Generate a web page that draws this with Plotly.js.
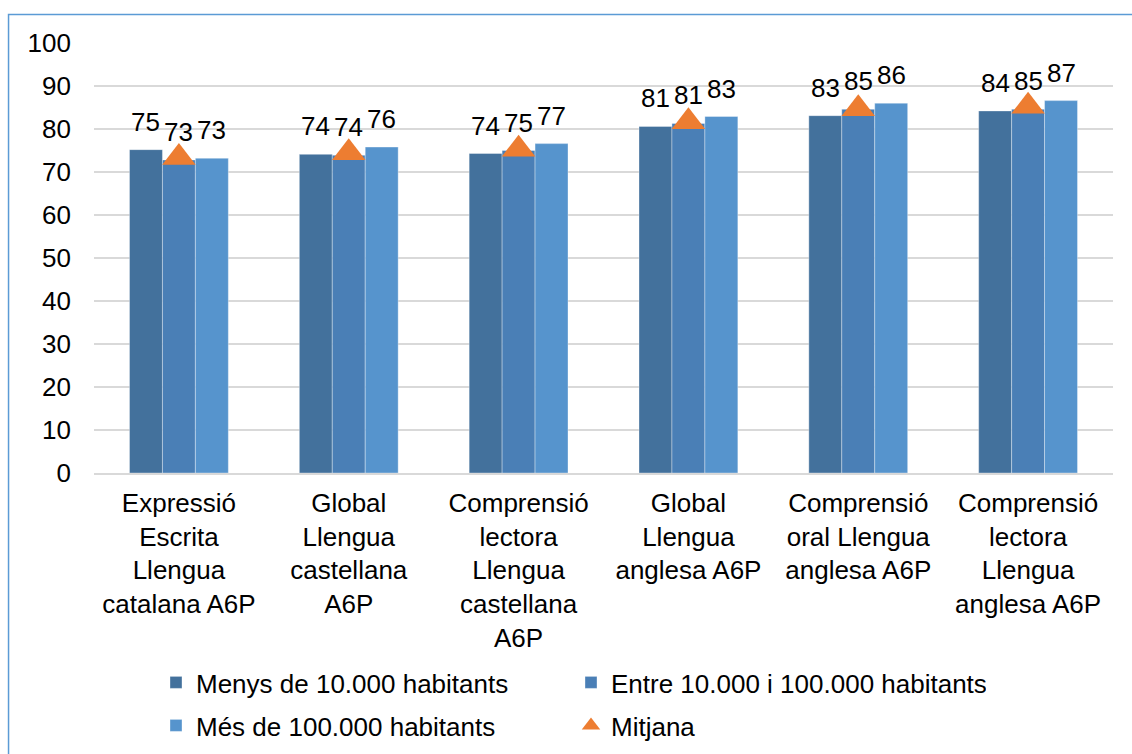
<!DOCTYPE html>
<html><head><meta charset="utf-8">
<script src="https://cdn.plot.ly/plotly-3.0.1.min.js"></script>
<style>html,body{margin:0;padding:0;background:#fff}#chart{width:1132px;height:754px}</style>
</head><body><div id="chart"></div>
<script>
const categories = [
  "Expressió<br>Escrita<br>Llengua<br>catalana A6P",
  "Global<br>Llengua<br>castellana<br>A6P",
  "Comprensió<br>lectora<br>Llengua<br>castellana<br>A6P",
  "Global<br>Llengua<br>anglesa A6P",
  "Comprensió<br>oral Llengua<br>anglesa A6P",
  "Comprensió<br>lectora<br>Llengua<br>anglesa A6P"
];
const seriesNames = ["Menys de 10.000 habitants", "Entre 10.000 i 100.000 habitants", "Més de 100.000 habitants", "Mitjana"];
const menys = [75.2, 74.1, 74.3, 80.6, 83.1, 84.2];
const entre = [72.8, 73.9, 75.0, 81.3, 84.6, 84.6];
const mes = [73.2, 75.8, 76.6, 82.9, 86.0, 86.6];
const mitjana = [73.4, 74.5, 75.3, 81.7, 84.7, 85.3];
const yTicks = [0, 10, 20, 30, 40, 50, 60, 70, 80, 90, 100];

const barColors = ["#43719c", "#4a7fb6", "#5694cd"];
const font = "Arial, 'Liberation Sans', sans-serif";

// plot area in px: left 94, right 1113.5, top 43, bottom 473
const pl = 94, pr = 1113.5, pt = 43, pb = 473;
const px2x = p => (p - pl) / (pr - pl);
const px2y = p => (pb - p) / (pb - pt);
const bargap = 0.418;
const barWidthPx = (pr - pl) / categories.length * (1 - bargap) / 3;

function barTrace(name, vals, color, legendId) {
  return {
    type: "bar", name: name, x: categories, y: vals, legend: legendId,
    marker: {color: color, line: {color: "rgba(255,255,255,0.35)", width: 1}},
    hoverinfo: "y"
  };
}

const barSeries = [menys, entre, mes];
const traces = [
  barTrace(seriesNames[0], menys, barColors[0], "legend"),
  barTrace(seriesNames[1], entre, barColors[1], "legend"),
  barTrace(seriesNames[2], mes, barColors[2], "legend2"),
  {
    type: "scatter", mode: "markers", name: seriesNames[3], x: categories, y: mitjana, legend: "legend2",
    marker: {symbol: "triangle-up", size: 29, color: "#ed7d31"}, cliponaxis: false
  }
];

// data labels above each bar
const annotations = [];
barSeries.forEach((vals, s) => {
  vals.forEach((v, i) => {
    annotations.push({
      x: categories[i], y: v, xref: "x", yref: "y",
      text: Math.round(v).toString(), showarrow: false,
      xshift: (s - 1) * barWidthPx, yanchor: "bottom", yshift: 11,
      font: {family: font, size: 26, color: "#000"}
    });
  });
});

const legendCommon = {
  orientation: "h", xref: "container", yref: "container",
  xanchor: "left", yanchor: "top",
  font: {family: font, size: 26, color: "#000"},
  entrywidth: 370, entrywidthmode: "pixels", itemwidth: 30,
  traceorder: "normal", bgcolor: "rgba(0,0,0,0)"
};

const layout = {
  width: 1132, height: 754,
  margin: {l: pl, r: 1132 - pr, t: pt, b: 754 - pb, pad: 0},
  paper_bgcolor: "#fff", plot_bgcolor: "#fff",
  font: {family: font, size: 26, color: "#000"},
  barmode: "group", bargap: bargap, bargroupgap: 0,
  showlegend: true,
  legend: Object.assign({}, legendCommon, {x: 156 / 1132, y: 1 - 659 / 754}),
  legend2: Object.assign({}, legendCommon, {x: 156 / 1132, y: 1 - 702 / 754}),
  xaxis: {
    type: "category", showgrid: false, showline: true, linecolor: "#d9d9d9", linewidth: 1.5,
    ticks: "", tickfont: {family: font, size: 26, color: "#000"}, ticklabelstandoff: 6,
    fixedrange: true
  },
  yaxis: {
    range: [0, 100], tickvals: yTicks, ticktext: yTicks.map(String),
    showgrid: true, gridcolor: "#d9d9d9", gridwidth: 1.5, zeroline: false, showline: false,
    ticks: "", tickfont: {family: font, size: 26, color: "#000"}, ticklabelstandoff: 22,
    fixedrange: true
  },
  annotations: annotations,
  shapes: [{
    type: "rect", xref: "paper", yref: "paper",
    x0: px2x(8.5), x1: px2x(1140), y0: px2y(800), y1: px2y(14.5),
    line: {color: "#5b9bd5", width: 1.5}, fillcolor: "rgba(0,0,0,0)", layer: "above"
  }]
};

Plotly.newPlot("chart", traces, layout, {displayModeBar: false, staticPlot: true});
</script>
</body></html>
